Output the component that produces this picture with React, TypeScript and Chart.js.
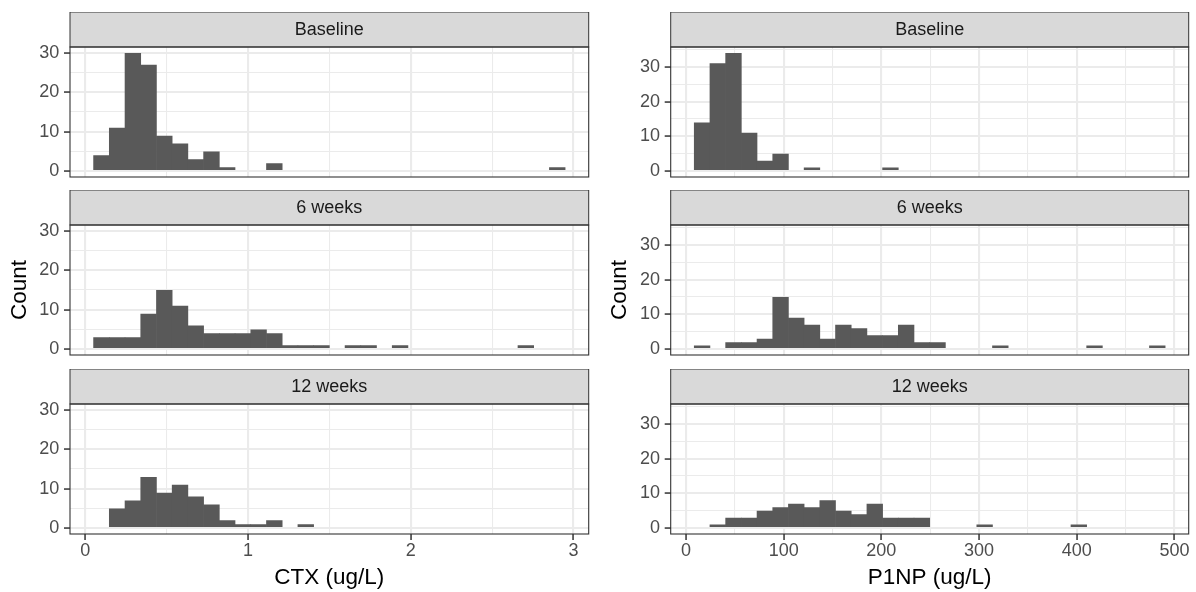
import React, { useEffect, useRef } from 'react';
import { Chart, registerables } from 'chart.js';

Chart.register(...registerables);

// ---------- data ----------
const panelLabels = ['Baseline', '6 weeks', '12 weeks'];

// CTX histogram (30 bins, centre of first and last bin, ug/L)
const ctxBinFirst = 0.1;
const ctxBinLast = 2.9;
const ctxBaseline = [4, 11, 30, 27, 9, 7, 3, 5, 1, 0, 0, 2, 0, 0, 0, 0, 0, 0, 0, 0, 0, 0, 0, 0, 0, 0, 0, 0, 0, 1];
const ctxWeek6 = [3, 3, 3, 9, 15, 11, 6, 4, 4, 4, 5, 4, 1, 1, 1, 0, 1, 1, 0, 1, 0, 0, 0, 0, 0, 0, 0, 1, 0, 0];
const ctxWeek12 = [0, 5, 7, 13, 9, 11, 8, 6, 2, 1, 1, 2, 0, 1, 0, 0, 0, 0, 0, 0, 0, 0, 0, 0, 0, 0, 0, 0, 0, 0];

// P1NP histogram (30 bins, centre of first and last bin, ug/L)
const p1npBinFirst = 16.5;
const p1npBinLast = 482.5;
const p1npBaseline = [14, 31, 34, 11, 3, 5, 0, 1, 0, 0, 0, 0, 1, 0, 0, 0, 0, 0, 0, 0, 0, 0, 0, 0, 0, 0, 0, 0, 0, 0];
const p1npWeek6 = [1, 0, 2, 2, 3, 15, 9, 7, 3, 7, 6, 4, 4, 7, 2, 2, 0, 0, 0, 1, 0, 0, 0, 0, 0, 1, 0, 0, 0, 1];
const p1npWeek12 = [0, 1, 3, 3, 5, 6, 7, 6, 8, 5, 4, 7, 3, 3, 3, 0, 0, 0, 1, 0, 0, 0, 0, 0, 1, 0, 0, 0, 0, 0];

const ctxTickLabels = [0, 1, 2, 3];
const p1npTickLabels = [0, 100, 200, 300, 400, 500];
const countTickLabels = [0, 10, 20, 30];

// ---------- layout / style ----------
const FONT = '"Liberation Sans", Arial, Helvetica, sans-serif';
const STRIP_H = 35;
const ROW_TOPS = [12, 190, 369];
const PANEL_H = 130;
const BOTTOM_AXIS_H = 58;

type Col = {
  left: number;
  width: number;
  axisW: number;
  padRight: number;
  title: string;
  first: number;
  last: number;
  series: number[][];
  ticks: number[];
  step: number;
  yTitlePad: number;
};

const columns: Col[] = [
  {
    left: 0, width: 600, axisW: 70, padRight: 11.3, title: 'CTX (ug/L)',
    first: ctxBinFirst, last: ctxBinLast, series: [ctxBaseline, ctxWeek6, ctxWeek12],
    ticks: ctxTickLabels, step: 0.5, yTitlePad: 8.25,
  },
  {
    left: 600, width: 596, axisW: 70.7, padRight: 7.3, title: 'P1NP (ug/L)',
    first: p1npBinFirst, last: p1npBinLast, series: [p1npBaseline, p1npWeek6, p1npWeek12],
    ticks: p1npTickLabels, step: 50, yTitlePad: 8.95,
  },
];

const isIn = (v: number, arr: number[], tol: number) => arr.some((t) => Math.abs(t - v) < tol);

const stripPlugin = {
  id: 'facetStrip',
  afterDraw(chart: any, _args: any, opts: any) {
    const { ctx, chartArea: a } = chart;
    const top = a.top - STRIP_H;
    const w = a.right - a.left;
    ctx.save();
    ctx.fillStyle = '#D9D9D9';
    ctx.fillRect(a.left, top, w, STRIP_H);
    ctx.strokeStyle = '#333333';
    ctx.lineWidth = 1;
    ctx.strokeRect(a.left, top, w, STRIP_H);
    ctx.fillStyle = '#1A1A1A';
    ctx.font = `18px ${FONT}`;
    ctx.textAlign = 'center';
    ctx.textBaseline = 'middle';
    ctx.fillText(opts.label, (a.left + a.right) / 2, top + STRIP_H / 2 + 0.5);
    ctx.lineWidth = 1.1;
    ctx.strokeRect(a.left, a.top, w, a.bottom - a.top);
    ctx.restore();
  },
};

function canvasHeight(row: number) {
  return STRIP_H + PANEL_H + (row === 2 ? BOTTOM_AXIS_H : 3);
}

function makeChart(canvas: HTMLCanvasElement, col: Col, row: number) {
  const counts = col.series[row];
  const n = counts.length;
  const bw = (col.last - col.first) / (n - 1);
  const points = counts.map((y, i) => ({ x: col.first + i * bw, y }));
  const e0 = col.first - bw / 2;
  const eN = col.last + bw / 2;
  const ext = 0.05 * (eN - e0);
  const maxCount = Math.max(...col.series.map((s) => Math.max(...s)));
  const isBottom = row === 2;
  const tolX = col.step * 1e-6;

  return new Chart(canvas, {
    type: 'bar',
    data: {
      datasets: [
        {
          data: points as any,
          backgroundColor: '#595959',
          borderWidth: 0,
          barPercentage: 1.04,
          categoryPercentage: 1,
        },
      ],
    },
    options: {
      responsive: false,
      animation: false,
      events: [],
      layout: { padding: { top: STRIP_H, left: 0, right: col.padRight, bottom: isBottom ? 0 : 3 } },
      plugins: {
        legend: { display: false },
        tooltip: { enabled: false },
        facetStrip: { label: panelLabels[row] },
      } as any,
      scales: {
        x: {
          type: 'linear',
          min: e0 - ext,
          max: eN + ext,
          offset: false,
          ticks: {
            display: isBottom,
            stepSize: col.step,
            includeBounds: false,
            autoSkip: false,
            maxRotation: 0,
            minRotation: 0,
            padding: 2.5,
            color: '#4D4D4D',
            font: { family: FONT, size: 18, lineHeight: 1 },
            callback: (v: any) => (isIn(Number(v), col.ticks, tolX) ? String(Math.round(Number(v))) : ''),
          },
          grid: {
            offset: false,
            color: '#EBEBEB',
            lineWidth: (c: any) => (c.tick && isIn(c.tick.value, col.ticks, tolX) ? 2.1 : 1.05),
            drawTicks: isBottom,
            tickLength: 6,
            tickWidth: 1.5,
            tickColor: (c: any) => (c.tick && isIn(c.tick.value, col.ticks, tolX) ? '#333333' : 'rgba(0,0,0,0)'),
          },
          border: { display: false },
          title: {
            display: isBottom,
            text: col.title,
            color: '#000000',
            font: { family: FONT, size: 22.5, lineHeight: 1 },
            padding: { top: 0, bottom: 3.25 },
          },
          afterFit: (s: any) => {
            s.height = isBottom ? BOTTOM_AXIS_H : 0;
            s.paddingLeft = 0;
            s.paddingRight = 0;
          },
        } as any,
        y: {
          type: 'linear',
          position: 'left',
          min: -0.05 * maxCount,
          max: 1.05 * maxCount,
          beginAtZero: false,
          ticks: {
            stepSize: 5,
            includeBounds: false,
            autoSkip: false,
            padding: 4.7,
            color: '#4D4D4D',
            font: { family: FONT, size: 18, lineHeight: 1 },
            callback: (v: any) => (isIn(Number(v), countTickLabels, 1e-6) ? String(Math.round(Number(v))) : ''),
          },
          grid: {
            color: '#EBEBEB',
            lineWidth: (c: any) => (c.tick && isIn(c.tick.value, countTickLabels, 1e-6) ? 2.1 : 1.05),
            drawTicks: true,
            tickLength: 6,
            tickWidth: 1.5,
            tickColor: (c: any) => (c.tick && isIn(c.tick.value, countTickLabels, 1e-6) ? '#333333' : 'rgba(0,0,0,0)'),
          },
          border: { display: false },
          title: {
            display: row === 1,
            text: 'Count',
            color: '#000000',
            font: { family: FONT, size: 22.5, lineHeight: 1 },
            padding: { top: col.yTitlePad, bottom: 0 },
          },
          afterFit: (s: any) => {
            s.width = col.axisW;
            s.paddingTop = 0;
            s.paddingBottom = 0;
          },
        } as any,
      },
    },
    plugins: [stripPlugin as any],
  });
}

export default function App() {
  const refs = useRef<(HTMLCanvasElement | null)[]>([]);

  useEffect(() => {
    const charts: Chart[] = [];
    columns.forEach((col, c) => {
      panelLabels.forEach((_, r) => {
        const cv = refs.current[c * 3 + r];
        if (cv) charts.push(makeChart(cv, col, r));
      });
    });
    return () => charts.forEach((ch) => ch.destroy());
  }, []);

  return (
    <div
      style={{
        position: 'absolute',
        left: 0,
        top: 0,
        width: 1196,
        height: 592,
        background: '#ffffff',
        overflow: 'hidden',
      }}
    >
      {columns.flatMap((col, c) =>
        panelLabels.map((label, r) => {
          const h = canvasHeight(r);
          return (
            <canvas
              key={`${c}-${label}`}
              ref={(el) => {
                refs.current[c * 3 + r] = el;
              }}
              width={col.width}
              height={h}
              style={{ position: 'absolute', left: col.left, top: ROW_TOPS[r], width: col.width, height: h }}
            />
          );
        })
      )}
    </div>
  );
}
